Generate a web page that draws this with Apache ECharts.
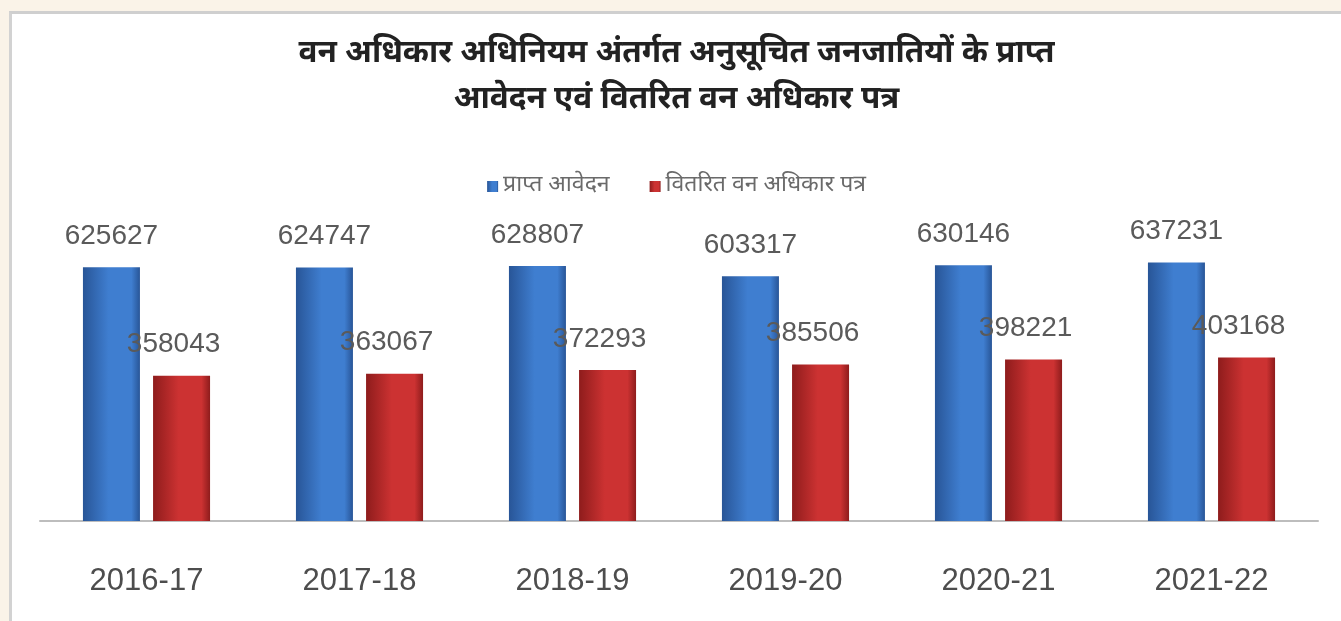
<!DOCTYPE html>
<html>
<head>
<meta charset="utf-8">
<script src="https://cdn.jsdelivr.net/npm/echarts@6/dist/echarts.min.js"></script>
<style>
  html, body { margin: 0; padding: 0; background: #faf3e8; }
  #panel {
    position: absolute; left: 9px; top: 11px; right: 0; bottom: 0;
    background: #fff;
    border-left: 3px solid #d2d2d2;
    border-top: 3px solid #cfcfcf;
  }
  #chart { width: 100%; height: 100%; }
</style>
</head>
<body>
<div id="panel"><div id="chart"></div></div>
<script>
// वर्ष
const years = ['2016-17', '2017-18', '2018-19', '2019-20', '2020-21', '2021-22'];
// प्राप्त आवेदन
const received = [625627, 624747, 628807, 603317, 630146, 637231];
// वितरित वन अधिकार पत्र
const distributed = [358043, 363067, 372293, 385506, 398221, 403168];
const seriesNames = ['प्राप्त आवेदन', 'वितरित वन अधिकार पत्र'];

const hindiFont = '"Noto Sans Devanagari", "Noto Sans", "Lohit Devanagari", sans-serif';

function barGradient(edge, mid) {
  return new echarts.graphic.LinearGradient(0, 0, 1, 0, [
    { offset: 0, color: edge },
    { offset: 0.45, color: mid },
    { offset: 0.85, color: mid },
    { offset: 1, color: edge }
  ]);
}

const chart = echarts.init(document.getElementById('chart'));
chart.setOption({
  backgroundColor: '#ffffff',
  title: {
    text: 'वन अधिकार अधिनियम अंतर्गत अनुसूचित जनजातियों के प्राप्त\nआवेदन एवं वितरित वन अधिकार पत्र',
    left: 'center',
    top: 14,
    textStyle: {
      fontFamily: hindiFont,
      fontSize: 31.5,
      fontWeight: 'bold',
      color: '#222222',
      lineHeight: 46
    }
  },
  legend: {
    top: 156,
    left: 'center',
    itemWidth: 11,
    itemHeight: 11,
    itemGap: 40,
    icon: 'rect',
    textStyle: { fontFamily: hindiFont, fontSize: 23, color: '#6a6a6a' },
    data: seriesNames
  },
  grid: { left: 28, right: 23, top: 223, bottom: 100 },
  xAxis: {
    type: 'category',
    data: years,
    axisLine: { lineStyle: { color: '#bdbdbd', width: 2 } },
    axisTick: { show: false },
    axisLabel: {
      margin: 45,
      fontFamily: '"Liberation Sans Narrow", "Liberation Sans", sans-serif',
      fontSize: 31,
      color: '#4d4d4d'
    }
  },
  yAxis: {
    type: 'value',
    min: 0,
    max: 700000,
    show: false,
    splitLine: { show: false }
  },
  series: [
    {
      name: seriesNames[0],
      type: 'bar',
      data: received,
      barWidth: 57,
      barGap: '23%',
      itemStyle: { color: barGradient('#285597', '#3f7ed0') },
      label: {
        show: true,
        position: 'top',
        distance: 17,
        fontFamily: '"Liberation Sans", sans-serif',
        fontSize: 28,
        color: '#5a5a5a'
      }
    },
    {
      name: seriesNames[1],
      type: 'bar',
      data: distributed,
      barWidth: 57,
      itemStyle: { color: barGradient('#8e1c1c', '#cc3232') },
      label: {
        show: true,
        position: 'top',
        distance: 17,
        offset: [-8, 0],
        fontFamily: '"Liberation Sans", sans-serif',
        fontSize: 28,
        color: '#5a5a5a'
      }
    }
  ],
  color: ['#3a73bd', '#c33131']
});
</script>
</body>
</html>
